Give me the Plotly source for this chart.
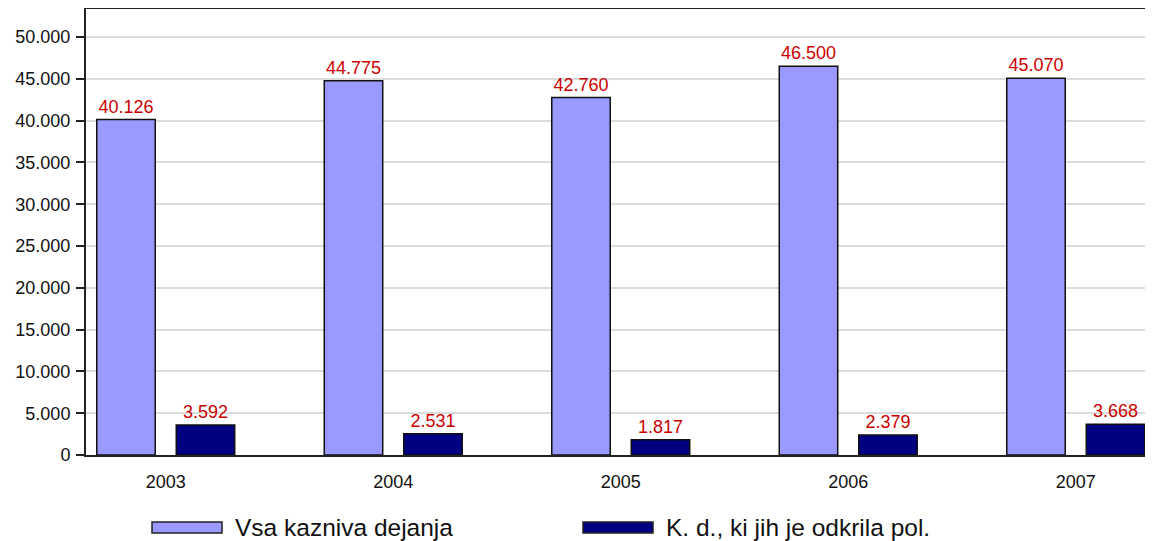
import plotly.graph_objects as go

years = ["2003", "2004", "2005", "2006", "2007"]
vsa = [40126, 44775, 42760, 46500, 45070]
odkrila = [3592, 2531, 1817, 2379, 3668]
series_names = ["Vsa kazniva dejanja", "K. d., ki jih je odkrila pol."]
colors = ["#9999ff", "#000080"]
y_ticks = list(range(0, 50001, 5000))

OFF = 8  # page body margin
W, H = 1153 - OFF, 541 - OFF
L, T, B, R = 86, 9, 455, 1153  # plot area in window px

def px_x(px):
    return (px - L) / (R - L)

def px_y(py):
    return (B - py) / (B - T)

fig = go.Figure()
bar_w = 0.257
for name, vals, col, off in [(series_names[0], vsa, colors[0], -0.1747),
                             (series_names[1], odkrila, colors[1], 0.1747)]:
    fig.add_trace(go.Bar(
        x=years, y=vals, name=name,
        marker=dict(color=col, line=dict(color="#111111", width=1.5)),
        width=bar_w, offset=off - bar_w / 2,
        texttemplate="%{y:,}", textposition="outside",
        textfont=dict(color="#cc0000", size=18, family="Liberation Sans"),
        cliponaxis=False, showlegend=False,
    ))

# custom legend (wide swatches)
legend_items = [(152, 222, 233), (583, 653, 664)]
for (x0, x1, tx), name, col in zip(legend_items, series_names, colors):
    fig.add_shape(type="rect", xref="paper", yref="paper",
                  x0=px_x(x0), x1=px_x(x1), y0=px_y(533), y1=px_y(522),
                  fillcolor=col, line=dict(color="#222222", width=1.5))
    fig.add_annotation(xref="paper", yref="paper", x=px_x(tx), y=px_y(527),
                       text=name, showarrow=False, xanchor="left", yanchor="middle",
                       font=dict(size=24.5, color="#111111", family="Liberation Sans"))

fig.update_layout(
    width=W, height=H,
    margin=dict(l=L - OFF, r=0, t=T - OFF, b=H - (B - OFF)),
    paper_bgcolor="white", plot_bgcolor="white",
    barmode="overlay",
    separators=",.",
    font=dict(family="Liberation Sans", size=18, color="#111111"),
    xaxis=dict(
        type="category", range=[-0.3505, 4.3396],
        showline=True, linecolor="#222222", linewidth=2, mirror=True,
        ticks="outside", ticklen=9, tickcolor="rgba(0,0,0,0)",
        tickfont=dict(size=18), showgrid=False, zeroline=False,
    ),
    yaxis=dict(
        range=[0, 53350], tickvals=y_ticks, tickformat=",",
        showline=True, linecolor="#222222", linewidth=2,
        ticks="outside", ticklen=8, tickcolor="#222222", tickwidth=1.5,
        ticklabelstandoff=2,
        showgrid=True, gridcolor="#dcdcdc", gridwidth=1.5, zeroline=False,
        tickfont=dict(size=18),
    ),
)

fig.write_html("out.html")
